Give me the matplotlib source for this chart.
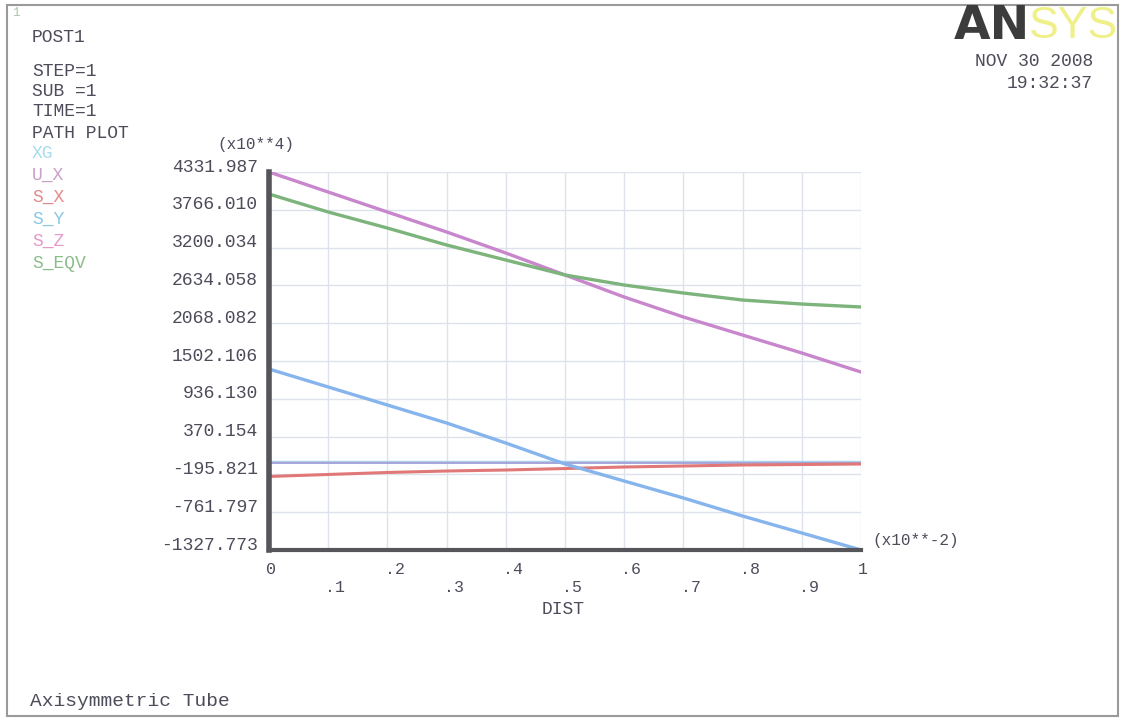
import matplotlib
matplotlib.use("Agg")
import matplotlib.pyplot as plt
import matplotlib.transforms as mtransforms
from matplotlib.patches import Rectangle

# path plot values (y axis is x10**4)
dist = [0.0, 0.1, 0.2, 0.3, 0.4, 0.5, 0.6, 0.7, 0.8, 0.9, 1.0]
xg = [0, 0, 0, 0, 0, 0, 0, 0, 0, 0, 0]
u_x = [-20, -20, -20, -20, -20, -20, -20, -20, -20, -20, -20]
s_x = [-227, -197, -167, -145, -130, -108, -85, -70, -55, -48, -40]
s_y = [1382, 1113, 843, 574, 274, -40, -295, -549, -819, -1073, -1327.773]
s_z = [4331.987, 4032, 3733, 3434, 3119, 2790, 2460, 2161, 1891, 1622, 1337]
s_eqv = [4002, 3733, 3493, 3239, 3014, 2790, 2640, 2520, 2415, 2355, 2311]

y_ticks = [-1327.773, -761.797, -195.821, 370.154, 936.130, 1502.106,
           2068.082, 2634.058, 3200.034, 3766.010, 4331.987]
y_labels = ["-1327.773", "-761.797", "-195.821", "370.154", "936.130", "1502.106",
            "2068.082", "2634.058", "3200.034", "3766.010", "4331.987"]
x_labels = ["0", "\n.1", ".2", "\n.3", ".4", "\n.5", ".6", "\n.7", ".8", "\n.9", "1"]

legend_names = ["XG", "U_X", "S_X", "S_Y", "S_Z", "S_EQV"]
legend_colors = ["#a8dcec", "#c8a0c8", "#e48a8a", "#8cc8e4", "#e49ac8", "#8cbc8c"]

W, H = 1122, 718
MONO = "Liberation Mono"
TXT = "#4c4c5a"


def px(x, y):
    return x / W, 1 - y / H


fig = plt.figure(figsize=(W / 100, H / 100), dpi=100)
fig.patch.set_facecolor("white")
fig.patches.append(Rectangle(px(7, 716), 1111 / W, 711 / H, transform=fig.transFigure,
                             fill=False, edgecolor="#9a9a9a", lw=1.5))

ax = fig.add_axes([269 / W, 168 / H, 592 / W, 378 / H])
ax.plot(dist, xg, color="#a8d0ec", lw=1.0)
ax.plot(dist, u_x, color="#9a96d4", lw=1.2)
ax.plot(dist, s_x, color="#e07878", lw=2.2)
ax.plot(dist, s_y, color="#86b4ec", lw=2.4)
ax.plot(dist, s_z, color="#c886cc", lw=2.4)
ax.plot(dist, s_eqv, color="#7cb47c", lw=2.4)

ax.set_xlim(0, 1)
ax.set_ylim(-1327.773, 4331.987)
ax.set_xticks(dist)
ax.set_xticklabels(x_labels, fontfamily=MONO, fontsize=12, color=TXT, ha="left")
ax.set_yticks(y_ticks)
ax.set_yticklabels(y_labels, fontfamily=MONO, fontsize=13, color=TXT)
ax.tick_params(length=0, pad=8)
ax.tick_params(axis="x", pad=9)
ax.grid(True, color="#dde2ec", lw=1.0)
ax.set_axisbelow(True)
for s in ["top", "right"]:
    ax.spines[s].set_visible(False)
ax.spines["left"].set_color("#55555a")
ax.spines["left"].set_linewidth(4)
ax.spines["bottom"].set_color("#55555a")
ax.spines["bottom"].set_linewidth(3)

shift_up = mtransforms.ScaledTranslation(0, 5 / 72, fig.dpi_scale_trans)
for lab in ax.get_yticklabels():
    lab.set_transform(lab.get_transform() + shift_up)
shift_left = mtransforms.ScaledTranslation(-2 / 72, 0, fig.dpi_scale_trans)
for lab in ax.get_xticklabels():
    lab.set_transform(lab.get_transform() + shift_left)

# annotation texts
fig.text(*px(12, 13), "1", fontfamily=MONO, fontsize=9, color="#a8c8a8", va="center")
fig.text(*px(32, 38), "POST1", fontfamily=MONO, fontsize=13, color=TXT, va="center")
for i, t in enumerate(["STEP=1", "SUB =1", "TIME=1", "PATH PLOT"]):
    yy = [71, 91, 111, 133][i]
    fig.text(*px(32, yy), t, fontfamily=MONO, fontsize=13, color=TXT, va="center")
for i, (name, c) in enumerate(zip(legend_names, legend_colors)):
    fig.text(*px(32, 153 + i * 22), name, fontfamily=MONO, fontsize=13, color=c, va="center")

fig.text(*px(256, 145), "(x10**4)", fontfamily=MONO, fontsize=11.5, color=TXT,
         ha="center", va="center")
fig.text(*px(872, 541), "(x10**-2)", fontfamily=MONO, fontsize=11.5, color=TXT, va="center")
fig.text(*px(563, 609), "DIST", fontfamily=MONO, fontsize=13, color=TXT,
         ha="center", va="center")
fig.text(*px(30, 701), "Axisymmetric Tube", fontfamily=MONO, fontsize=14, color=TXT,
         va="center")

# logo and date
fig.text(*px(1030, 4), "AN", fontfamily="DejaVu Sans", fontweight="bold", fontsize=34,
         color="#3c3c3c", ha="right", va="top")
fig.text(*px(1029, 6), "SYS", fontfamily="Liberation Sans", fontsize=32,
         color="#f0f08a", ha="left", va="top")
fig.text(*px(1093, 62), "NOV 30 2008", fontfamily=MONO, fontsize=13, color=TXT,
         ha="right", va="center")
fig.text(*px(1093, 84), "19:32:37", fontfamily=MONO, fontsize=13, color=TXT,
         ha="right", va="center")

fig.savefig("out.png", dpi=100)
